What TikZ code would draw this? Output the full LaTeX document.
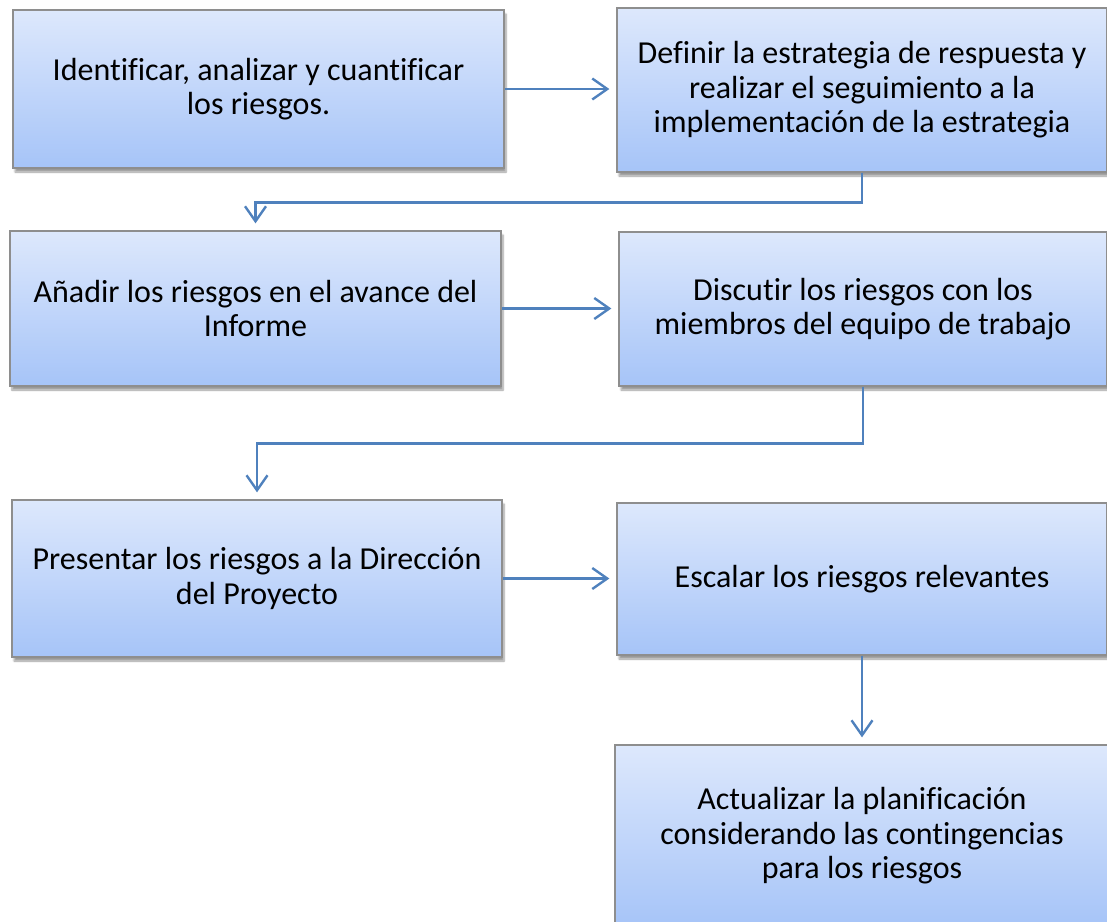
\documentclass[tikz,border=0pt]{standalone}
\usepackage{fontspec}
\setmainfont{Carlito}[Ligatures={NoCommon}]
\usetikzlibrary{arrows.meta,shadows.blur,calc}
\definecolor{boxtop}{HTML}{DDE8FC}
\definecolor{boxbot}{HTML}{A6C4F8}
\definecolor{boxline}{HTML}{8E8E8E}
\definecolor{arrowc}{HTML}{4F81BD}
\begin{document}
\begin{tikzpicture}[x=1pt,y=-1pt,
  stepbox/.style={draw=boxline, line width=1.3pt, top color=boxtop, bottom color=boxbot,
    inner sep=0pt, align=center, font=\fontsize{32}{34.5}\selectfont,
    blur shadow={shadow xshift=2pt, shadow yshift=-4pt, shadow blur steps=6, shadow opacity=40}},
  arr/.style={draw=arrowc, line width=2.4pt, -{Straight Barb[length=15pt,width=21pt,line width=2.4pt]}, shorten >=7pt}]
\useasboundingbox (0,0) rectangle (1107,921);
\node[stepbox, minimum width=491pt, minimum height=158pt] (A) at (258.5,89) {Identificar, analizar y cuantificar\\los riesgos.};
\node[stepbox, minimum width=490pt, minimum height=164pt] (B) at (862,90) {Definir la estrategia de respuesta y\\realizar el seguimiento a la\\implementación de la estrategia};
\node[stepbox, minimum width=491pt, minimum height=155pt] (C) at (255.5,308.5) {Añadir los riesgos en el avance del\\Informe};
\node[stepbox, minimum width=488pt, minimum height=154pt] (D) at (863,309) {Discutir los riesgos con los\\miembros del equipo de trabajo};
\node[stepbox, minimum width=490pt, minimum height=157pt] (E) at (257,578.5) {Presentar los riesgos a la Dirección\\del Proyecto};
\node[stepbox, minimum width=490pt, minimum height=152pt] (F) at (862,579) {Escalar los riesgos relevantes};
\node[stepbox, minimum width=494pt, minimum height=182pt] (G) at (862,836) {Actualizar la planificación\\considerando las contingencias\\para los riesgos};
\draw[arr] (A.east) -- (A.east -| B.west);
\draw[arr] (C.east) -- (C.east -| D.west);
\draw[arr] (E.east) -- (E.east -| F.west);
\draw[arr] (B.south) -- ++(0,30) -| (C.north);
\draw[arr] (D.south) -- ++(0,57) -| (E.north);
\draw[arr] (F.south) -- (G.north);
\end{tikzpicture}
\end{document}
